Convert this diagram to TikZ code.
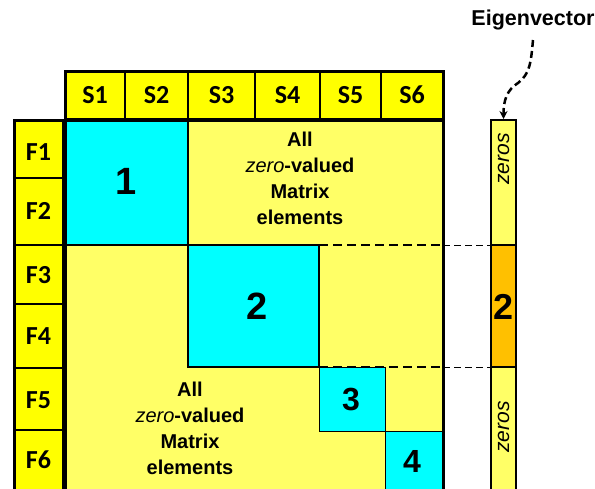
\documentclass[tikz,border=0pt]{standalone}
\usepackage{fontspec}
\setmainfont{Liberation Sans}
\newfontfamily\calib{Carlito}
\usetikzlibrary{arrows.meta}
\definecolor{hdr}{HTML}{FFFF00}
\definecolor{lyel}{HTML}{FFFF66}
\definecolor{cyn}{HTML}{00FFFF}
\definecolor{org}{HTML}{FFC000}
\begin{document}
\begin{tikzpicture}[x=1pt,y=-1pt,
  lbl/.style={font=\fontsize{26}{26}\selectfont\calib\bfseries, inner sep=0pt},
  big/.style={font=\fontsize{38}{38}\selectfont\bfseries, inner sep=0pt},
  mid/.style={font=\fontsize{32}{32}\selectfont\bfseries, inner sep=0pt},
  txt/.style={font=\fontsize{20}{26}\selectfont\bfseries, align=center, inner sep=0pt},
  zer/.style={font=\fontsize{21}{21}\selectfont\itshape, rotate=90, inner sep=0pt},
  thickdash/.style={line width=2.5pt, dash pattern=on 9pt off 5pt},
  thindash/.style={line width=0.8pt, dash pattern=on 7pt off 4pt}]
\useasboundingbox (0,0) rectangle (595,488);
\clip (0,0) rectangle (595,488);
\fill[white] (0,0) rectangle (595,488);

% matrix body
\fill[lyel] (65,120) rectangle (443,500);
\draw[fill=cyn, line width=2.2pt] (65,120) rectangle (188,245);
\draw[fill=cyn, line width=2.5pt] (188,245) rectangle (319,367);
\draw[fill=cyn, line width=0.8pt] (319,367) rectangle (385,431);
\draw[fill=cyn, line width=0.8pt] (385,431) rectangle (443,500);
\draw[line width=3pt] (65,120) rectangle (443,500);

% header
\fill[hdr] (65,71) rectangle (443,119);
\foreach \xx in {125,188,255,320,381}{\draw[line width=1.5pt] (\xx,71) -- (\xx,119);}
\draw[line width=3pt] (65,71) rectangle (443,119);
\node[lbl] (s1) at (95,95) {S1};
\node[lbl] (s2) at (156.5,95) {S2};
\node[lbl] (s3) at (221.5,95) {S3};
\node[lbl] (s4) at (287.5,95) {S4};
\node[lbl] (s5) at (350.5,95) {S5};
\node[lbl] (s6) at (412,95) {S6};

% F column
\fill[hdr] (14,120) rectangle (63,500);
\foreach \yy in {178,245,304,368,430}{\draw[line width=1.5pt] (14,\yy) -- (63,\yy);}
\draw[line width=3pt] (14,120) rectangle (63,500);
\node[lbl] (f1) at (38.5,152) {F1};
\node[lbl] (f2) at (38.5,211) {F2};
\node[lbl] (f3) at (38.5,275) {F3};
\node[lbl] (f4) at (38.5,336) {F4};
\node[lbl] (f5) at (38.5,400) {F5};
\node[lbl] (f6) at (38.5,460) {F6};

% block labels
\node[big] (b1) at (126,181) {1};
\node[big] (b2) at (257,306) {2};
\node[mid] (b3) at (351,400) {3};
\node[mid] (b4) at (412,461) {4};

% zero texts
\node[txt] (z1) at (300,178) {All\\{\mdseries\itshape zero}-valued\\Matrix\\elements};
\node[txt] (z2) at (190,428) {All\\{\mdseries\itshape zero}-valued\\Matrix\\elements};

% eigenvector bar
\draw[fill=lyel, line width=2pt] (491,120) rectangle (516,500);
\draw[fill=org, line width=2pt] (491,245) rectangle (516,367);
\node[font=\fontsize{36}{36}\selectfont\bfseries, inner sep=0pt] (e2) at (503.5,307) {2};
\node[zer] (ez1) at (503.5,159) {zeros};
\node[zer] (ez2) at (503.5,427) {zeros};

% dashed guide lines
\coordinate (ta) at (319,245); \coordinate (tb) at (443,245); \coordinate (tc) at (491,245);
\coordinate (ba) at (319,367); \coordinate (bb) at (443,367); \coordinate (bc) at (491,367);
\draw[thickdash] (ta) -- (tb);
\draw[thickdash] (ba) -- (bb);
\draw[thindash] (tb) -- (tc);
\draw[thindash] (bb) -- (bc);

% eigenvector label and arrow
\node[font=\fontsize{21.5}{21.5}\selectfont\bfseries, inner sep=0pt] (eig) at (533,20) {Eigenvector};
\coordinate (as) at (533,40);
\coordinate (ae) at (503.5,119);
\draw[line width=2.5pt, dash pattern=on 7pt off 4pt, -{Stealth[length=8pt,width=8pt]}]
  (as) .. controls (531,62) and (530,74) .. (518,83) .. controls (507,90) and (503.5,100) .. (ae);
\end{tikzpicture}
\end{document}
